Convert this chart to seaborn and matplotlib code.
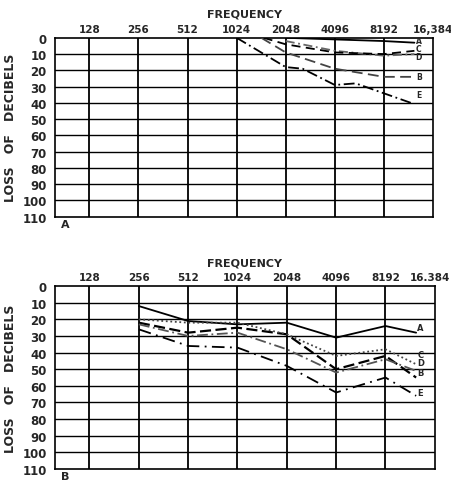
import matplotlib
matplotlib.use("Agg")
import matplotlib.pyplot as plt
import matplotlib.transforms as mtransforms
import seaborn as sns

# audiogram grid
freq_ticks = [128, 256, 512, 1024, 2048, 4096, 8192, 16384]
labels_a = ["128", "256", "512", "1024", "2048", "4096", "8192", "16,384"]
labels_b = ["128", "256", "512", "1024", "2048", "4096", "8192", "16.384"]
db_ticks = [0, 10, 20, 30, 40, 50, 60, 70, 80, 90, 100, 110]

# panel A curves (frequency, loss in dB)
a_freq_A = [2048, 4096, 8192, 12600]
a_loss_A = [0, 1, 2, 3]
a_freq_B = [1450, 2048, 4096, 8192, 12600]
a_loss_B = [0, 9, 19, 24, 24]
a_freq_C = [2048, 4096, 8192, 12600]
a_loss_C = [2, 8, 11, 10]
a_freq_D = [1500, 2048, 4096, 8192, 12600]
a_loss_D = [0, 4, 9, 10, 8]
a_freq_E = [1024, 2048, 2600, 4096, 5500, 12000]
a_loss_E = [0, 18, 19, 29, 28, 40]

# panel B curves
b_freq = [256, 512, 1024, 2048, 4096, 8192, 12600]
b_loss_A = [12, 21, 23, 22, 31, 24, 28]
b_loss_B = [22, 28, 25, 29, 50, 42, 55]
b_loss_C = [20, 22, 22, 29, 42, 38, 47]
b_loss_D = [23, 30, 28, 38, 52, 44, 51]
b_loss_E = [26, 36, 37, 48, 64, 55, 66]

sns.set_style("white")
plt.rcParams["font.family"] = ["DejaVu Sans"]

fig = plt.figure(figsize=(4.52, 4.85), dpi=100)
ax1 = fig.add_axes([0.122, 0.551, 0.836, 0.369])
ax2 = fig.add_axes([0.122, 0.031, 0.840, 0.377])


def setup(ax, tick_labels, letter):
    ax.set_xscale("log", base=2)
    ax.set_xlim(79, 16384)
    ax.set_ylim(110, 0)
    for f in freq_ticks[:-1]:
        ax.axvline(f, color="black", lw=1.3, zorder=1)
    for d in db_ticks[1:-1]:
        ax.axhline(d, color="black", lw=1.0, zorder=1)
    ax.set_xticks(freq_ticks)
    ax.set_xticklabels(tick_labels)
    ax.set_yticks(db_ticks)
    ax.xaxis.tick_top()
    ax.tick_params(axis="x", length=0, pad=3, labelsize=7.5)
    ax.tick_params(axis="y", length=0, pad=6, labelsize=8.5)
    for lab in ax.get_xticklabels() + ax.get_yticklabels():
        lab.set_fontweight("bold")
    for s in ax.spines.values():
        s.set_color("black")
        s.set_linewidth(1.2)
    ax.set_title("FREQUENCY", fontsize=8, fontweight="bold", pad=15)
    ax.set_ylabel("LOSS   OF   DECIBELS", fontsize=9, fontweight="bold", labelpad=4)
    ax.set_xlabel("")
    ax.annotate(letter, xy=(0, 0), xycoords="axes fraction", xytext=(4, -5),
                textcoords="offset points", fontsize=8, fontweight="bold",
                va="center", ha="left")


def curve(ax, x, y, ls, lw=1.3, col="black"):
    sns.lineplot(x=x, y=y, ax=ax, color=col, linestyle=ls, lw=lw,
                 estimator=None, sort=False, zorder=3)


setup(ax1, labels_a, "A")
curve(ax1, a_freq_A, a_loss_A, "-")
curve(ax1, a_freq_B, a_loss_B, (0, (6, 3)), col="#444444")
curve(ax1, a_freq_C, a_loss_C, (0, (5, 2, 1, 2)), col="#666666")
curve(ax1, a_freq_D, a_loss_D, (0, (5, 3)))
curve(ax1, a_freq_E, a_loss_E, (0, (6, 2, 1, 2)))
for txt, y in [("A", 1.5), ("C", 6.5), ("D", 11.5), ("B", 24), ("E", 35)]:
    ax1.text(13400, y, txt, fontsize=5.5, fontweight="bold", ha="center", va="center")

setup(ax2, labels_b, "B")
curve(ax2, b_freq, b_loss_A, "-")
curve(ax2, b_freq, b_loss_B, (0, (5, 2)), lw=1.6)
curve(ax2, b_freq, b_loss_C, (0, (1, 1.5)), col="#444444")
curve(ax2, b_freq, b_loss_D, (0, (6, 2, 1, 2)), col="#555555")
curve(ax2, b_freq, b_loss_E, (0, (7, 3, 1, 3)))
for txt, y in [("A", 25), ("C", 41), ("D", 46), ("B", 52), ("E", 64)]:
    ax2.text(13400, y, txt, fontsize=6, fontweight="bold", ha="center", va="center")

# keep the last frequency label of panel B inside the figure
shift = mtransforms.ScaledTranslation(-0.05, 0, fig.dpi_scale_trans)
last = ax2.get_xticklabels()[-1]
last.set_transform(last.get_transform() + shift)

fig.savefig("out.png", dpi=100)
